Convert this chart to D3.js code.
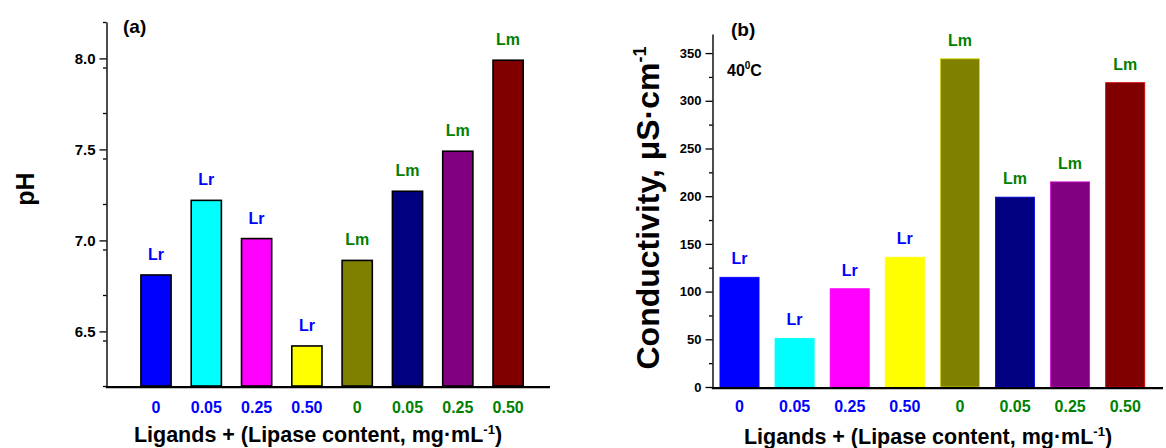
<!DOCTYPE html>
<html>
<head>
<meta charset="utf-8">
<script src="https://cdn.jsdelivr.net/npm/d3@7"></script>
<style>
  body { margin: 0; background: #fff; }
  svg { font-family: "Liberation Sans", Arial, sans-serif; font-weight: bold; }
</style>
</head>
<body>
<div id="chart"></div>
<script>
// lipase content per bar and the ligand each bar belongs to
const lipase = ["0", "0.05", "0.25", "0.50", "0", "0.05", "0.25", "0.50"];
const ligand = ["Lr", "Lr", "Lr", "Lr", "Lm", "Lm", "Lm", "Lm"];
// (a) pH and (b) conductivity at 40 C
const phValues = [6.81, 7.22, 7.01, 6.42, 6.89, 7.27, 7.49, 7.99];
const condValues = [115, 51, 103, 136, 344, 199, 215, 319];
const phTicks = [6.5, 7.0, 7.5, 8.0];
const condTicks = [0, 50, 100, 150, 200, 250, 300, 350];

const barColors = ["#0000ff", "#00ffff", "#ff00ff", "#ffff00", "#808000", "#000080", "#800080", "#800000"];
const ligandColor = { Lr: "#0000ff", Lm: "#008000" };

const W = 1166, H = 448;
const svg = d3.select("#chart").append("svg")
  .attr("width", W)
  .attr("height", H);

const idx = d3.range(lipase.length);

function panel(opts) {
  const g = svg.append("g");
  const x = d3.scaleBand()
    .domain(idx)
    .range(opts.xRange)
    .paddingInner(opts.pad)
    .paddingOuter(opts.pad / 2);
  const y = d3.scaleLinear()
    .domain(opts.yDomain)
    .range([opts.yBottom, opts.yTop]);

  // bars
  g.selectAll("rect.bar")
    .data(idx)
    .join("rect")
    .attr("class", "bar")
    .attr("x", i => x(i))
    .attr("width", x.bandwidth())
    .attr("y", i => y(opts.values[i]))
    .attr("height", i => y(opts.yDomain[0]) - y(opts.values[i]))
    .attr("fill", i => barColors[i])
    .attr("stroke", i => opts.outline ? "#000" : d3.color(barColors[i]).brighter(1.5))
    .attr("stroke-width", opts.outline ? 1.6 : 0.8);

  // ligand labels above bars
  g.selectAll("text.lig")
    .data(idx)
    .join("text")
    .attr("class", "lig")
    .attr("x", i => x(i) + x.bandwidth() / 2)
    .attr("y", i => y(opts.values[i]) - opts.labelGap)
    .attr("text-anchor", "middle")
    .attr("fill", i => ligandColor[ligand[i]])
    .style("font-size", "16px")
    .text(i => ligand[i]);

  // y axis: major + minor ticks
  const step = opts.majorTicks[1] - opts.majorTicks[0];
  const minor = d3.range(opts.yDomain[0], opts.yDomain[1] + 1e-9, step / 2)
    .map(v => +v.toFixed(4))
    .filter(v => !opts.majorTicks.some(t => Math.abs(t - v) < 1e-6));

  g.append("g")
    .attr("transform", `translate(${opts.axisX},0)`)
    .call(d3.axisLeft(y).tickValues(minor).tickSize(3.5).tickFormat(""))
    .call(a => a.select(".domain").remove())
    .call(a => a.selectAll("line").attr("stroke-width", 1.3));

  const yAxis = g.append("g")
    .attr("transform", `translate(${opts.axisX},0)`)
    .call(d3.axisLeft(y).tickValues(opts.majorTicks).tickSize(7).tickSizeOuter(0)
      .tickPadding(4).tickFormat(opts.tickFormat));
  yAxis.select(".domain").attr("stroke-width", 1.4);
  yAxis.selectAll("line").attr("stroke-width", 1.3);
  yAxis.selectAll("text")
    .style("font-size", opts.yTickSize)
    .style("font-family", "Liberation Sans, Arial, sans-serif")
    .style("font-weight", "bold")
    .attr("fill", "#000");

  // x axis line
  g.append("line")
    .attr("x1", opts.axisX - 0.7)
    .attr("x2", opts.xEnd)
    .attr("y1", y(opts.yDomain[0]) + 1.2)
    .attr("y2", y(opts.yDomain[0]) + 1.2)
    .attr("stroke", "#000")
    .attr("stroke-width", 2.2);

  const xAxis = g.append("g")
    .attr("transform", `translate(0,${y(opts.yDomain[0])})`)
    .call(d3.axisBottom(x).tickSize(0).tickPadding(opts.xLabelPad).tickFormat(i => lipase[i]));
  xAxis.select(".domain").remove();
  xAxis.selectAll("text")
    .style("font-size", "16px")
    .style("font-family", "Liberation Sans, Arial, sans-serif")
    .style("font-weight", "bold")
    .attr("fill", i => ligandColor[ligand[i]]);

  // x title
  const xt = g.append("text")
    .attr("x", opts.xTitleX)
    .attr("y", opts.xTitleY)
    .attr("text-anchor", "middle")
    .style("font-size", "21.5px");
  xt.append("tspan").text("Ligands + (Lipase content, mg\u00b7mL");
  xt.append("tspan").attr("dy", -8).style("font-size", "13px").text("-1");
  xt.append("tspan").attr("dy", 8).text(")");

  return { g, x, y };
}

// (a) pH
const a = panel({
  xRange: [130.85, 533.25], pad: 0.4,
  yDomain: [6.2, 8.2], yBottom: 386, yTop: 22,
  axisX: 106.5, xEnd: 550,
  values: phValues, majorTicks: phTicks,
  tickFormat: d3.format(".1f"), yTickSize: "15px",
  outline: true, labelGap: 15,
  xLabelPad: 16, xTitleX: 318, xTitleY: 442
});
a.g.append("text").attr("x", 123).attr("y", 33).style("font-size", "19px").text("(a)");
a.g.append("text")
  .attr("transform", "translate(34,189) rotate(-90)")
  .attr("text-anchor", "middle")
  .style("font-size", "25px")
  .text("pH");

// (b) conductivity
const b = panel({
  xRange: [711.95, 1152.75], pad: 0.29,
  yDomain: [0, 370], yBottom: 387, yTop: 34,
  axisX: 712.5, xEnd: 1163,
  values: condValues, majorTicks: condTicks,
  tickFormat: d3.format("d"), yTickSize: "13px",
  outline: false, labelGap: 13,
  xLabelPad: 14, xTitleX: 928, xTitleY: 444
});
b.g.append("text").attr("x", 731).attr("y", 36).style("font-size", "19px").text("(b)");
const tc = b.g.append("text").attr("x", 727).attr("y", 76).style("font-size", "16px");
tc.append("tspan").text("40");
tc.append("tspan").attr("dy", -7).style("font-size", "10px").text("0");
tc.append("tspan").attr("dy", 7).text("C");

const yt = b.g.append("text")
  .attr("transform", "translate(659,208) rotate(-90)")
  .attr("text-anchor", "middle")
  .style("font-size", "32px");
yt.append("tspan").text("Conductivity, \u03bcS\u00b7cm");
yt.append("tspan").attr("dy", -13).style("font-size", "18px").text("-1");
</script>
</body>
</html>
